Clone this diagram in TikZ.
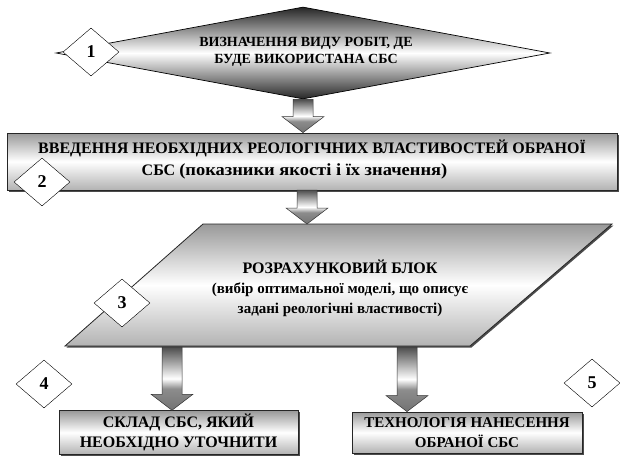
\documentclass[tikz,border=0pt]{standalone}
\usepackage{fontspec}
\usepackage{graphicx}
\setmainfont{Liberation Serif}
\usetikzlibrary{shapes.geometric,calc,shadows}

% shading for the block arrows (path bbox runs from 25bp to 75bp)
\pgfdeclareverticalshading{arrowsh}{100bp}{color(0bp)=(black!55); color(25bp)=(black!55);
  color(42bp)=(black!45); color(50bp)=(white); color(75bp)=(black!70); color(100bp)=(black!70)}

% block arrow between two points (vertical, pointing down)
\newcommand{\blockarrow}[2]{%
  \shadedraw[arrowshade] let \p1=(#1), \p2=(#2) in
    (\x1-10pt,\y1) -- (\x1+10pt,\y1) -- (\x1+10pt,\y2+16pt) -- (\x1+21pt,\y2+16pt)
    -- (\x1,\y2) -- (\x1-21pt,\y2+16pt) -- (\x1-10pt,\y2+16pt) -- cycle;}

\begin{document}
\begin{tikzpicture}[x=1pt, y=-1pt,
    num/.style={draw, fill=white, shape=diamond, minimum width=56pt, minimum height=48pt,
      inner sep=0pt, font=\bfseries\fontsize{18}{18}\selectfont},
    bigdiamond/.style={draw, line width=0.7pt, shape=diamond, minimum width=494pt, minimum height=92pt,
      inner sep=0pt, top color=black!85, bottom color=black!85, middle color=white},
    graybox/.style={draw=black!85, line width=0.8pt, top color=black!40, bottom color=black!30,
      middle color=white, drop shadow={shadow xshift=1.5pt, shadow yshift=-1.5pt, fill=black!70, opacity=1}},
    txt/.style={align=center, font=\bfseries\fontsize{14}{17}\selectfont},
    arrowshade/.style={draw=black!80, line width=0.5pt, shading=arrowsh}]
        \useasboundingbox (0,0) rectangle (620,455);

        % Step 1
        \node[bigdiamond] (what) at (303,53) {};
        \node[txt] (whattext) at (306,52) {ВИЗНАЧЕННЯ ВИДУ РОБІТ, ДЕ\\БУДЕ ВИКОРИСТАНА СБС};

        % Step 2
        \node[graybox, minimum width=610pt, minimum height=57pt] (intro) at (312,161.5) {};
        \node[txt, font=\bfseries\fontsize{16}{22}\selectfont] (introtext) at (312,159)
          {ВВЕДЕННЯ НЕОБХІДНИХ РЕОЛОГІЧНИХ ВЛАСТИВОСТЕЙ ОБРАНОЇ\\
           СБС \resizebox{268pt}{\height}{\fontsize{17}{22}\selectfont(показники якості і їх значення)}\hspace*{35pt}};

        % Step 3
        \coordinate (ptl) at (203,224);
        \coordinate (ptr) at (612,224);
        \coordinate (pbr) at (470,346);
        \coordinate (pbl) at (65,346);
        \shadedraw[graybox] (ptl) -- (ptr) -- (pbr) -- (pbl) -- cycle;
        \node[txt, font=\bfseries\fontsize{16}{20}\selectfont] (calc) at (340,288)
          {РОЗРАХУНКОВИЙ БЛОК\\
           {\fontsize{15}{20}\selectfont(вибір оптимальної моделі, що описує}\\
           {\fontsize{15}{20}\selectfont задані реологічні властивості)}};

        % Steps 4 and 5
        \node[graybox, txt, font=\bfseries\fontsize{16}{20}\selectfont, minimum width=239pt, minimum height=41pt]
          (sklad) at (178.5,432.5) {СКЛАД СБС, ЯКИЙ\\НЕОБХІДНО УТОЧНИТИ};
        \node[graybox, txt, font=\bfseries\fontsize{15}{20}\selectfont, minimum width=230pt, minimum height=41pt]
          (tech) at (467,432.5) {ТЕХНОЛОГІЯ НАНЕСЕННЯ\\ОБРАНОЇ СБС};

        % Arrows
        \blockarrow{what.south}{what.south |- intro.north}
        \coordinate (a2) at (307,190);
        \blockarrow{a2}{a2 |- ptl}
        \coordinate (a3) at (172,347);
        \blockarrow{a3}{a3 |- sklad.north}
        \coordinate (a4) at (407,347);
        \blockarrow{a4}{a4 |- tech.north}

        % Numbers
        \node[num] (n1) at (91,52) {1};
        \node[num] (n2) at (42,182) {2};
        \node[num] (n3) at (122,303) {3};
        \node[num] (n4) at (44,384) {4};
        \node[num] (n5) at (592,383) {5};
      \end{tikzpicture}
\end{document}
